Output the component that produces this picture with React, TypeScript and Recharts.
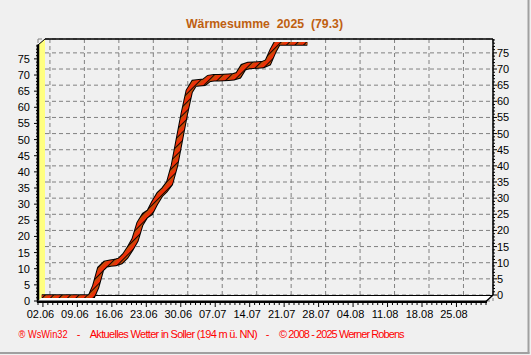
import React from 'react';
import { LineChart, Line, XAxis, YAxis, CartesianGrid } from 'recharts';

// Daily cumulative values, day 0 = 01.06.2025
const sumValues = [
  0, 0, 0, 0, 0, 0, 0, 0, 0, 0, 0,
  3.5, 9, 10.5, 10.8, 11, 11.5, 13, 15.3, 18, 23,
  25.5, 26.5, 29.5, 32, 33.5, 35.5, 41, 49, 57, 64,
  66.5, 66.7, 66.8, 68, 68.2, 68.2, 68.3, 68.4, 68.5, 69,
  71.5, 72, 72.1, 72.2, 72.3, 73, 76.5, 79.3, 79.3, 79.3,
  79.3, 79.3, 79.3, 79.3,
];
const tickDays = [1, 8, 15, 22, 29, 36, 43, 50, 57, 64, 71, 78, 85];
const tickLabels = ['02.06', '09.06', '16.06', '23.06', '30.06', '07.07', '14.07', '21.07', '28.07', '04.08', '11.08', '18.08', '25.08'];
const yMajorTicks = [0, 5, 10, 15, 20, 25, 30, 35, 40, 45, 50, 55, 60, 65, 70, 75];
const yAllTicks = Array.from({ length: 80 }, (_, i) => i);
const dayTicks = Array.from({ length: 92 }, (_, i) => i);
const Y_MAX = 79.3;
const X_MAX = 91;
const TITLE = 'Wärmesumme  2025  (79.3)';

const data = sumValues.map((v, i) => ({ day: i, sum: v }));

const FONT = '"Liberation Sans", Arial, sans-serif';
const W = 531;
const H = 355;

const XTick = (props: any) => {
  const { x, y, payload } = props;
  const idx = tickDays.indexOf(payload.value);
  const major = idx >= 0;
  return (
    <g>
      <line x1={x} x2={x} y1={y + 1} y2={y + (major ? 6 : 4)} stroke="#000" strokeWidth={1} />
      {major && (
        <text x={x - 2.5} y={y + 17} textAnchor="middle" fontSize={11} fontFamily={FONT} fill="#000">
          {tickLabels[idx]}
        </text>
      )}
    </g>
  );
};

const YTickLeft = (props: any) => {
  const { x, y, payload } = props;
  const v = payload.value;
  const major = v % 5 === 0;
  return (
    <g>
      <line x1={x} x2={x - (major ? 4 : 2)} y1={y} y2={y} stroke="#000" strokeWidth={1} />
      {major && (
        <text x={x - 8} y={y + 4} textAnchor="end" fontSize={11} fontFamily={FONT} fill="#000">
          {v}
        </text>
      )}
    </g>
  );
};

const YTickRight = (props: any) => {
  const { x, y, payload } = props;
  const v = payload.value;
  const major = v % 5 === 0;
  return (
    <g>
      <line x1={x} x2={x + (major ? 4 : 2)} y1={y} y2={y} stroke="#000" strokeWidth={1} />
      {major && (
        <text x={x + 4} y={y + 4} textAnchor="start" fontSize={11} fontFamily={FONT} fill="#000">
          {v}
        </text>
      )}
    </g>
  );
};

const abs: React.CSSProperties = { position: 'absolute', left: 0, top: 0 };

export default function App() {
  return (
    <div style={{ ...abs, width: W, height: H, background: '#f0f0f0', overflow: 'hidden' }}>
      {/* Layer A: grid + axes */}
      <div style={abs}>
        <LineChart width={W} height={H} data={data} margin={{ top: 39, right: 0, bottom: 24, left: 0 }}>
          <XAxis
            xAxisId="front"
            dataKey="day"
            type="number"
            domain={[0, X_MAX]}
            allowDataOverflow
            ticks={dayTicks}
            interval={0}
            padding={{ left: 0, right: 7 }}
            height={30}
            tickSize={0}
            tickMargin={0}
            tickLine={false}
            axisLine={false}
            tick={<XTick />}
          />
          <XAxis
            xAxisId="back"
            dataKey="day"
            type="number"
            domain={[0, X_MAX]}
            allowDataOverflow
            ticks={tickDays}
            interval={0}
            padding={{ left: 7, right: 0 }}
            hide
            height={0}
          />
          <YAxis
            yAxisId="front"
            orientation="left"
            type="number"
            domain={[0, Y_MAX]}
            allowDataOverflow
            ticks={yAllTicks}
            interval={0}
            padding={{ top: 6, bottom: 0 }}
            width={38}
            tickSize={0}
            tickMargin={0}
            tickLine={false}
            axisLine={false}
            tick={<YTickLeft />}
          />
          <YAxis
            yAxisId="back"
            orientation="right"
            type="number"
            domain={[0, Y_MAX]}
            allowDataOverflow
            ticks={yAllTicks}
            interval={0}
            padding={{ top: 0, bottom: 6 }}
            width={38}
            tickSize={0}
            tickMargin={0}
            tickLine={false}
            axisLine={false}
            tick={<YTickRight />}
          />
          <YAxis
            yAxisId="gridY"
            orientation="right"
            type="number"
            domain={[0, Y_MAX]}
            allowDataOverflow
            ticks={yMajorTicks}
            interval={0}
            padding={{ top: 0, bottom: 6 }}
            hide
            width={0}
          />
          <CartesianGrid
            xAxisId="back"
            yAxisId="gridY"
            stroke="#808080"
            strokeDasharray="4 3"
          />
          <Line
            xAxisId="back"
            yAxisId="gridY"
            dataKey="sum"
            stroke="none"
            dot={false}
            activeDot={false}
            isAnimationActive={false}
          />
        </LineChart>
      </div>

      {/* Layer B: 3D frame decorations, title and footer */}
      <svg width={W} height={H} style={{ ...abs, pointerEvents: 'none' }}>
        {/* outer frame */}
        <line x1={528.5} y1={0} x2={528.5} y2={353.5} stroke="#a0a0a0" strokeWidth={2} />
        <line x1={0} y1={353} x2={529.5} y2={353} stroke="#a0a0a0" strokeWidth={2} />
        {/* yellow wall */}
        <polygon points="38,45 45,39 45,295 38,301" fill="#ffff80" />
        <line x1={38} y1={45} x2={45} y2={39} stroke="#000" strokeWidth={1} />
        <line x1={38} y1={44.5} x2={38} y2={302.5} stroke="#000" strokeWidth={2.5} />
        {/* back plane border */}
        <line x1={45} y1={39} x2={493} y2={39} stroke="#000" strokeWidth={1.5} />
        <line x1={493} y1={39} x2={493} y2={295} stroke="#000" strokeWidth={1.5} />
        {/* floor */}
        <polygon points="38,301 45,295 493,295 486,301" fill="#ffffff" />
        <line x1={45} y1={295.5} x2={493} y2={295.5} stroke="#000" strokeWidth={1} />
        <line x1={486} y1={301.5} x2={493} y2={295} stroke="#000" strokeWidth={1.5} />
        <line x1={37} y1={301.8} x2={487} y2={301.8} stroke="#000" strokeWidth={2.5} />
        {/* title */}
        <text
          x={264.5}
          y={28}
          textAnchor="middle"
          fontFamily={FONT}
          fontWeight="bold"
          fontSize={12.5}
          fill="#bf6010"
          style={{ whiteSpace: 'pre' }}
          textLength={157}
          lengthAdjust="spacingAndGlyphs"
        >
          {TITLE}
        </text>
        {/* footer */}
        <g fontFamily={FONT} fontSize={11} fill="#ff0000">
          <text x={18.6} y={338} textLength={49} lengthAdjust="spacingAndGlyphs">® WsWin32</text>
          <text x={78.6} y={338} textAnchor="middle">-</text>
          <text x={89.7} y={338} textLength={168} lengthAdjust="spacing">Aktuelles Wetter in Soller (194 m ü. NN)</text>
          <text x={267.5} y={338} textAnchor="middle">-</text>
          <text x={279} y={338} textLength={125.6} lengthAdjust="spacing">© 2008 - 2025 Werner Robens</text>
        </g>
      </svg>

      {/* Layer C: the ribbon */}
      <div style={abs}>
        <LineChart width={W} height={H} data={data} margin={{ top: 39, right: 38, bottom: 54, left: 38 }}>
          <defs>
            <pattern id="hatch" patternUnits="userSpaceOnUse" width="6" height="6" patternTransform="rotate(45)">
              <rect width="6" height="6" fill="#ee3008" />
              <rect x="0" y="0" width="3" height="6" fill="#c84a08" />
              <line x1="0.5" y1="0" x2="0.5" y2="6" stroke="#000" strokeWidth="0.9" />
            </pattern>
          </defs>
          <XAxis
            xAxisId="mid"
            dataKey="day"
            type="number"
            domain={[0, X_MAX]}
            allowDataOverflow
            padding={{ left: 3.5, right: 3.5 }}
            hide
            height={0}
          />
          <YAxis
            yAxisId="mid"
            type="number"
            domain={[0, Y_MAX]}
            allowDataOverflow
            padding={{ top: 3, bottom: 3 }}
            hide
            width={0}
          />
          <Line
            xAxisId="mid"
            yAxisId="mid"
            type="linear"
            dataKey="sum"
            stroke="#000"
            strokeWidth={7.5}
            strokeLinejoin="miter"
            dot={false}
            activeDot={false}
            isAnimationActive={false}
          />
          <Line
            xAxisId="mid"
            yAxisId="mid"
            type="linear"
            dataKey="sum"
            stroke="url(#hatch)"
            strokeWidth={5.5}
            strokeLinejoin="miter"
            dot={false}
            activeDot={false}
            isAnimationActive={false}
          />
        </LineChart>
      </div>
    </div>
  );
}
